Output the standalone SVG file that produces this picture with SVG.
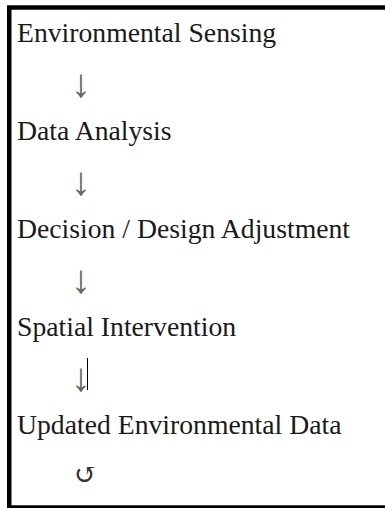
<svg xmlns="http://www.w3.org/2000/svg" width="385" height="508" viewBox="0 0 385 508">
  <style>
    .step { font-family: "Liberation Serif", "Times New Roman", serif; font-size: 27.7px; fill: #1a1a1a; }
    .arrow { font-family: "Liberation Serif", "Times New Roman", serif; font-size: 40px; fill: #666; }
    .loop { font-family: "Liberation Serif", "DejaVu Serif", serif; font-size: 28px; fill: #333; }
    .frame { fill: #fff; stroke: #000; stroke-width: 4.5; }
  </style>
  <rect x="0" y="0" width="385" height="508" fill="#fff"/>
  <!-- outer frame, right edge runs off the page -->
  <rect class="frame" x="9.25" y="7.5" width="500" height="500"/>

  <g id="environmental-sensing"><text class="step" x="17" y="42">Environmental Sensing</text></g>
  <g id="data-analysis"><text class="step" x="17" y="140">Data Analysis</text></g>
  <g id="decision-design-adjustment"><text class="step" x="17" y="238">Decision / Design Adjustment</text></g>
  <g id="spatial-intervention"><text class="step" x="17" y="336">Spatial Intervention</text></g>
  <g id="updated-environmental-data"><text class="step" x="17" y="434">Updated Environmental Data</text></g>

  <g id="connectors">
    <text class="arrow" x="71" y="97">↓</text>
    <text class="arrow" x="71" y="195">↓</text>
    <text class="arrow" x="71" y="293">↓</text>
    <text class="arrow" x="71" y="391">↓</text>
    <!-- text cursor left beside the last arrow -->
    <line x1="87.5" y1="358" x2="87.5" y2="390" stroke="#000" stroke-width="1"/>
    <text class="loop" x="74" y="484">↺</text>
  </g>
</svg>
